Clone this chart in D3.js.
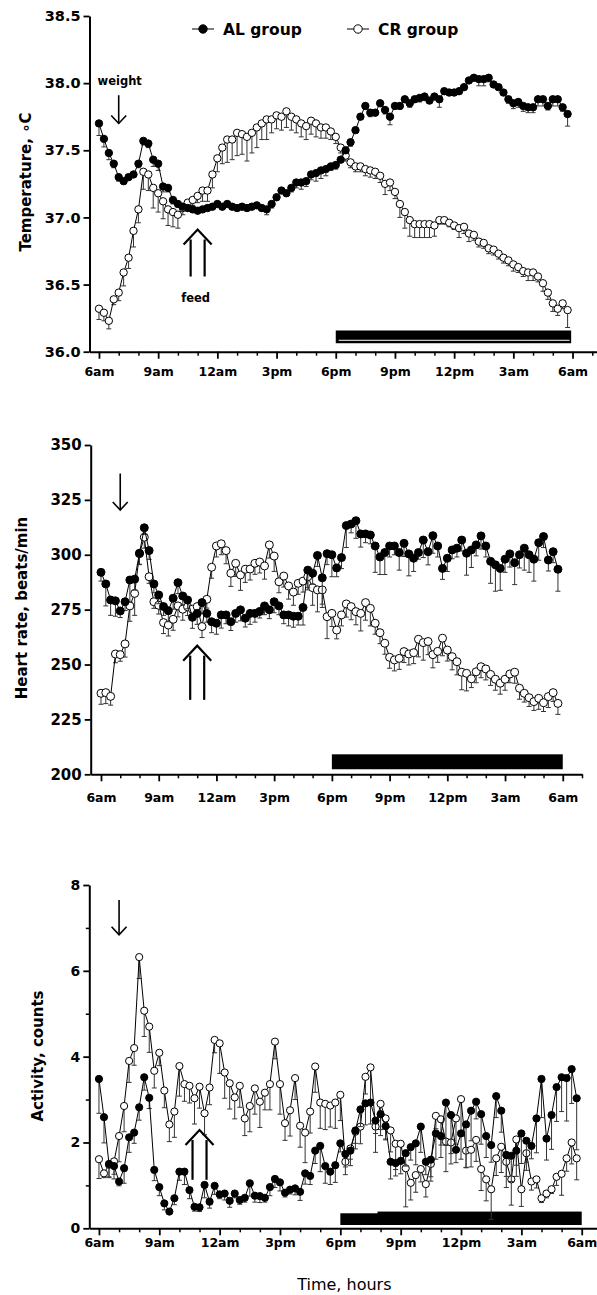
<!DOCTYPE html>
<html>
<head>
<meta charset="utf-8">
<script src="https://cdn.jsdelivr.net/npm/d3@7"></script>
<style>
  body { margin: 0; background: #fff; }
  svg text { font-family: "DejaVu Sans", Verdana, sans-serif; }
</style>
</head>
<body>
<svg id="chart" width="597" height="1295"></svg>
<script>
// x categories: one sample every 15 min, starting 6am
const times = d3.range(96).map(i => i * 0.25);
const majorHours = [0, 3, 6, 9, 12, 15, 18, 21, 24];
const timeLabels = ["6am", "9am", "12am", "3pm", "6pm", "9pm", "12pm", "3am", "6am"];

const tempTicks = [36.0, 36.5, 37.0, 37.5, 38.0, 38.5];
const tempTickLabels = ["36.0", "36.5", "37.0", "37.5", "38.0", "38.5"];
const hrTicks = [200, 225, 250, 275, 300, 325, 350];
const actTicks = [0, 2, 4, 6, 8];
const actMinorTicks = [1, 3, 5, 7];

const tempAL = [
  37.70, 37.585, 37.48, 37.40, 37.30, 37.27, 37.30, 37.32, 37.40, 37.57,
  37.55, 37.43, 37.40, 37.23, 37.22, 37.13, 37.10, 37.08, 37.07, 37.06,
  37.05, 37.06, 37.07, 37.08, 37.10, 37.08, 37.10, 37.08, 37.07, 37.08,
  37.07, 37.08, 37.09, 37.07, 37.06, 37.10, 37.15, 37.20, 37.18, 37.22,
  37.26, 37.26, 37.27, 37.32, 37.33, 37.35, 37.36, 37.38, 37.39, 37.43,
  37.50, 37.56, 37.65, 37.75, 37.83, 37.78, 37.78, 37.85, 37.80, 37.75,
  37.83, 37.83, 37.88, 37.85, 37.88, 37.89, 37.90, 37.87, 37.90, 37.88,
  37.94, 37.93, 37.93, 37.94, 37.97, 38.02, 38.04, 38.03, 38.03, 38.04,
  37.99, 37.97, 37.93, 37.88, 37.85, 37.86, 37.83, 37.82, 37.82, 37.88,
  37.88, 37.83, 37.88, 37.88, 37.82, 37.77
];
const tempALErr = [
  0.09, 0.06, 0.05, 0.03, 0.03, 0.02, 0.02, 0.02, 0.03, 0.03,
  0.03, 0.05, 0.05, 0.04, 0.03, 0.03, 0.02, 0.02, 0.02, 0.02,
  0.02, 0.02, 0.02, 0.02, 0.02, 0.02, 0.02, 0.02, 0.02, 0.02,
  0.02, 0.02, 0.02, 0.02, 0.04, 0.03, 0.02, 0.02, 0.02, 0.03,
  0.04, 0.05, 0.04, 0.04, 0.06, 0.06, 0.05, 0.03, 0.03, 0.02,
  0.02, 0.03, 0.02, 0.02, 0.02, 0.03, 0.02, 0.02, 0.03, 0.06,
  0.02, 0.02, 0.02, 0.03, 0.02, 0.03, 0.03, 0.02, 0.02, 0.06,
  0.02, 0.02, 0.02, 0.02, 0.02, 0.02, 0.02, 0.05, 0.05, 0.03,
  0.02, 0.02, 0.02, 0.03, 0.04, 0.04, 0.04, 0.04, 0.04, 0.05,
  0.05, 0.03, 0.05, 0.05, 0.03, 0.09
];
const tempCR = [
  36.32, 36.29, 36.23, 36.39, 36.44, 36.59, 36.70, 36.90, 37.06, 37.34,
  37.32, 37.22, 37.18, 37.12, 37.06, 37.04, 37.02, 37.07, 37.11, 37.13,
  37.16, 37.20, 37.20, 37.32, 37.44, 37.52, 37.58, 37.58, 37.63, 37.62,
  37.60, 37.63, 37.67, 37.70, 37.73, 37.73, 37.76, 37.75, 37.79, 37.75,
  37.73, 37.70, 37.68, 37.72, 37.70, 37.67, 37.67, 37.64, 37.60, 37.52,
  37.46, 37.41, 37.38, 37.38, 37.36, 37.35, 37.34, 37.31, 37.25, 37.26,
  37.19, 37.10, 37.04, 36.98, 36.95, 36.95, 36.95, 36.95, 36.94, 36.98,
  36.98, 36.96, 36.94, 36.92, 36.93, 36.88, 36.87, 36.82, 36.81, 36.77,
  36.76, 36.73, 36.70, 36.68, 36.65, 36.63, 36.60, 36.59, 36.59, 36.56,
  36.51, 36.44, 36.36, 36.32, 36.36, 36.31
];
const tempCRErr = [
  0.08, 0.06, 0.06, 0.04, 0.06, 0.10, 0.08, 0.12, 0.10, 0.13,
  0.12, 0.15, 0.14, 0.13, 0.12, 0.11, 0.10, 0.05, 0.04, 0.04,
  0.05, 0.08, 0.08, 0.10, 0.10, 0.12, 0.17, 0.15, 0.17, 0.15,
  0.18, 0.15, 0.15, 0.12, 0.15, 0.10, 0.10, 0.10, 0.12, 0.10,
  0.10, 0.10, 0.10, 0.10, 0.10, 0.08, 0.08, 0.06, 0.05, 0.04,
  0.04, 0.04, 0.04, 0.04, 0.05, 0.05, 0.05, 0.05, 0.08, 0.06,
  0.05, 0.10, 0.12, 0.12, 0.10, 0.10, 0.10, 0.10, 0.08, 0.03,
  0.03, 0.03, 0.03, 0.07, 0.05, 0.06, 0.04, 0.04, 0.04, 0.04,
  0.04, 0.04, 0.04, 0.04, 0.05, 0.04, 0.04, 0.06, 0.06, 0.04,
  0.06, 0.05, 0.06, 0.05, 0.04, 0.13
];

const hrAL = [
  292.0, 286.7, 279.4, 279.0, 274.4, 278.6, 288.5, 288.9, 300.7, 312.3,
  301.9, 286.7, 281.7, 276.4, 274.5, 280.2, 287.3, 281.2, 279.4, 271.5,
  273.3, 278.2, 273.3, 269.5, 268.8, 272.6, 272.6, 269.5, 273.3, 274.9,
  271.1, 273.3, 273.3, 274.2, 276.7, 274.9, 278.6, 276.7, 272.6, 272.6,
  272.0, 272.0, 276.0, 293.0, 291.6, 299.7, 289.5, 300.5, 300.0, 294.0,
  298.7, 313.3, 314.0, 315.5, 309.5, 309.5, 309.0, 304.0, 299.0, 301.0,
  304.0, 304.0, 301.0, 305.2, 300.4, 298.4, 301.0, 306.7, 301.4, 308.7,
  304.0, 293.8, 298.4, 302.2, 303.0, 306.7, 300.7, 302.2, 304.5, 308.6,
  304.0, 297.0, 295.4, 293.8, 298.0, 300.4, 296.4, 300.0, 303.0, 300.0,
  298.0, 305.5, 308.3, 297.6, 301.4, 293.4
];
const hrALErr = [
  4, 10, 7, 7, 3, 4, 10, 5, 5, 3,
  4, 4, 4, 4, 5, 5, 5, 4, 4, 5,
  5, 5, 4, 5, 5, 6, 4, 4, 4, 5,
  4, 5, 4, 3, 4, 4, 5, 4, 4, 5,
  5, 4, 8, 8, 5, 5, 12, 5, 10, 4,
  5, 10, 4, 8, 6, 4, 4, 12, 8, 10,
  5, 4, 8, 6, 10, 6, 3, 8, 6, 8,
  5, 5, 6, 4, 4, 5, 10, 8, 5, 6,
  5, 10, 12, 10, 6, 6, 10, 6, 10, 8,
  10, 8, 5, 5, 5, 10
];
const hrCR = [
  236.9, 237.2, 235.5, 254.8, 254.5, 259.4, 276.7, 282.4, 300.5, 308.0,
  290.0, 278.6, 277.0, 269.1, 268.0, 270.6, 276.7, 275.2, 276.3, 275.2,
  276.4, 267.3, 279.7, 294.3, 304.0, 305.0, 301.9, 291.6, 296.1, 290.8,
  293.4, 293.5, 296.1, 296.7, 294.9, 304.5, 299.4, 287.7, 290.3, 285.8,
  283.0, 287.0, 288.0, 290.0, 285.0, 284.0, 284.0, 271.8, 273.3, 265.7,
  272.6, 277.6, 276.4, 274.1, 273.3, 278.2, 275.6, 268.8, 264.5, 259.7,
  253.3, 252.1, 252.8, 255.9, 254.8, 255.4, 261.5, 260.0, 260.5, 254.5,
  256.0, 262.0, 256.6, 253.6, 251.3, 246.5, 246.0, 243.5, 246.7, 249.0,
  248.0, 245.5, 243.3, 241.5, 243.3, 245.7, 246.5, 239.2, 236.9, 234.9,
  233.1, 234.6, 232.6, 235.4, 237.2, 232.3
];
const hrCRErr = [
  5, 5, 4, 4, 3, 6, 7, 10, 5, 5,
  3, 3, 4, 5, 5, 5, 5, 5, 4, 4,
  4, 5, 4, 5, 5, 5, 6, 6, 6, 7,
  6, 5, 5, 5, 6, 6, 7, 5, 5, 6,
  6, 5, 5, 6, 8, 10, 8, 10, 6, 4,
  5, 6, 6, 6, 8, 8, 8, 5, 5, 5,
  5, 5, 5, 5, 5, 5, 8, 8, 6, 6,
  5, 8, 5, 6, 6, 8, 8, 4, 5, 5,
  5, 5, 5, 5, 5, 4, 5, 5, 4, 4,
  4, 5, 4, 5, 4, 5
];

const actAL = [
  3.48, 2.59, 1.50, 1.45, 1.09, 1.40, 2.12, 2.23, 2.82, 3.52,
  3.04, 1.36, 0.96, 0.58, 0.39, 0.70, 1.32, 1.32, 0.89, 0.50,
  0.49, 1.01, 0.62, 0.99, 0.79, 0.81, 0.64, 0.81, 0.66, 0.71,
  1.05, 0.76, 0.75, 0.71, 0.96, 1.15, 1.07, 0.83, 0.90, 0.93,
  0.85, 1.28, 1.22, 1.81, 1.92, 1.45, 1.32, 1.47, 1.98, 1.73,
  1.81, 2.28, 2.77, 2.91, 2.93, 2.51, 2.66, 2.38, 1.55, 1.52,
  1.57, 1.75, 1.89, 1.98, 2.37, 1.55, 1.60, 2.21, 2.15, 2.93,
  2.64, 1.83, 2.21, 2.42, 2.74, 2.95, 2.66, 2.15, 1.94, 3.08,
  2.74, 1.71, 1.69, 1.81, 2.21, 2.04, 1.92, 2.56, 3.48, 2.09,
  2.64, 3.29, 3.52, 3.50, 3.71, 3.03
];
const actALErr = [
  0.8, 0.6, 0.3, 0.3, 0.1, 0.35, 0.35, 0.25, 0.3, 0.3,
  0.25, 0.25, 0.2, 0.15, 0.05, 0.15, 0.2, 0.3, 0.2, 0.1,
  0.1, 0.3, 0.15, 0.2, 0.1, 0.15, 0.15, 0.1, 0.1, 0.1,
  0.3, 0.15, 0.15, 0.1, 0.2, 0.2, 0.2, 0.1, 0.1, 0.15,
  0.2, 0.25, 0.2, 0.3, 0.6, 0.4, 0.3, 0.4, 0.2, 0.3,
  0.2, 0.3, 0.4, 0.5, 0.5, 0.3, 0.5, 0.3, 0.4, 0.3,
  0.3, 0.3, 0.3, 0.5, 0.6, 0.3, 0.4, 0.6, 0.5, 1.0,
  0.9, 0.3, 0.6, 1.0, 0.7, 0.4, 0.7, 0.5, 0.4, 0.5,
  0.5, 0.5, 0.6, 0.6, 0.7, 0.5, 0.3, 0.8, 0.9, 0.5,
  0.8, 0.8, 0.8, 1.0, 0.8, 1.2
];
const actCR = [
  1.61, 1.28, 1.48, 1.56, 2.15, 2.85, 3.90, 4.20, 6.32, 5.07,
  4.70, 3.67, 4.09, 3.21, 2.42, 2.72, 3.78, 3.36, 3.32, 3.03,
  3.30, 2.68, 3.28, 4.39, 4.31, 3.63, 3.38, 3.05, 3.32, 2.56,
  2.85, 3.26, 2.95, 3.16, 3.36, 4.35, 3.36, 2.45, 2.75, 3.50,
  2.39, 2.23, 2.72, 3.77, 2.93, 2.90, 2.86, 2.93, 3.11, 1.55,
  1.86, 2.25, 2.37, 3.53, 3.75, 2.37, 2.90, 2.56, 2.28, 1.97,
  1.97, 1.40, 1.06, 1.24, 1.38, 1.03, 1.50, 2.62, 2.54, 2.02,
  2.00, 2.56, 3.01, 1.81, 1.83, 2.06, 1.38, 1.14, 0.91, 1.63,
  1.90, 1.55, 1.14, 2.07, 0.91, 1.75, 1.09, 1.14, 0.70, 0.81,
  0.91, 1.20, 1.27, 1.63, 2.00, 1.63
];
const actCRErr = [
  0.45, 0.1, 0.3, 0.3, 0.6, 0.6, 0.5, 0.4, 0.5, 0.6,
  0.6, 0.4, 0.3, 0.4, 0.4, 0.6, 0.7, 0.4, 0.4, 0.6,
  0.5, 0.5, 0.4, 0.3, 0.7, 0.6, 0.6, 0.5, 0.5, 0.4,
  0.6, 0.6, 0.6, 0.4, 0.6, 0.4, 0.7, 0.4, 0.6, 0.5,
  0.5, 0.7, 0.5, 0.6, 0.6, 0.6, 0.5, 0.6, 0.6, 0.3,
  0.4, 0.4, 0.4, 0.4, 0.8, 0.6, 0.6, 0.5, 0.5, 0.6,
  0.4, 0.9, 0.4, 0.4, 0.3, 0.3, 0.4, 0.3, 0.6, 0.7,
  0.5, 0.6, 0.8, 0.4, 0.4, 0.5, 0.5, 0.5, 0.7, 0.4,
  0.6, 0.6, 0.6, 0.6, 0.4, 0.4, 0.2, 0.2, 0.1, 0.1,
  0.1, 0.2, 0.5, 0.3, 0.5, 0.5
];

const svg = d3.select("#chart");
svg.append("rect").attr("width", 597).attr("height", 1295).attr("fill", "#fff");

function drawSeries(g, x, y, vals, errs, filled, r) {
  const pts = vals.map((v, i) => ({ t: times[i], v, lo: v - errs[i] }));
  const eb = g.append("g").attr("stroke", "#333").attr("stroke-width", 1);
  eb.selectAll("line.bar").data(pts).join("line").attr("class", "bar")
    .attr("x1", d => x(d.t)).attr("x2", d => x(d.t))
    .attr("y1", d => y(d.v)).attr("y2", d => y(d.lo));
  eb.selectAll("line.cap").data(pts).join("line").attr("class", "cap")
    .attr("x1", d => x(d.t) - 2.5).attr("x2", d => x(d.t) + 2.5)
    .attr("y1", d => y(d.lo)).attr("y2", d => y(d.lo));
  g.append("path").datum(pts)
    .attr("d", d3.line().x(d => x(d.t)).y(d => y(d.v)))
    .attr("fill", "none").attr("stroke", "#000").attr("stroke-width", 1);
  g.append("g").selectAll("circle").data(pts).join("circle")
    .attr("cx", d => x(d.t)).attr("cy", d => y(d.v)).attr("r", r)
    .attr("fill", filled ? "#000" : "#fff")
    .attr("stroke", "#000").attr("stroke-width", 1);
}

function drawArrowDown(g, x, y, h, v0, v1) {
  const a = g.append("g").attr("stroke", "#000").attr("stroke-width", 1.6).attr("fill", "none");
  a.append("line").attr("x1", x(h)).attr("x2", x(h)).attr("y1", y(v0)).attr("y2", y(v1));
  a.append("path").attr("d", `M${x(h) - 7.5},${y(v1) - 8}L${x(h)},${y(v1)}L${x(h) + 7.5},${y(v1) - 8}`);
}

function drawFeedArrow(g, x, y, h, vTop, vBottom) {
  const a = g.append("g").attr("stroke", "#000").attr("stroke-width", 2.2).attr("fill", "none");
  const cx = x(h), top = y(vTop), bot = y(vBottom);
  a.append("line").attr("x1", cx - 7).attr("x2", cx - 7).attr("y1", top + 10).attr("y2", bot);
  a.append("line").attr("x1", cx + 7).attr("x2", cx + 7).attr("y1", top + 10).attr("y2", bot);
  a.append("path").attr("d", `M${cx - 14},${top + 15}L${cx},${top}L${cx + 14},${top + 15}`);
}

function drawPanel(cfg) {
  const x = d3.scaleLinear().domain(cfg.xDomain).range(cfg.xRange);
  const y = d3.scaleLinear().domain(cfg.yDomain).range(cfg.yRange);
  const g = svg.append("g");

  // dark-phase bars
  cfg.night.forEach(n => {
    g.append("rect").attr("x", x(n.from)).attr("y", y(n.top))
      .attr("width", x(n.to) - x(n.from)).attr("height", y(cfg.nightBottom) - y(n.top))
      .attr("fill", "#000");
  });
  if (cfg.nightStripe) {
    g.append("line").attr("x1", x(12.15)).attr("x2", x(23.85))
      .attr("y1", y(cfg.nightStripe)).attr("y2", y(cfg.nightStripe))
      .attr("stroke", "#fff").attr("stroke-width", 1);
  }

  drawSeries(g, x, y, cfg.cr, cfg.crErr, false, cfg.r);
  drawSeries(g, x, y, cfg.al, cfg.alErr, true, cfg.r);

  // y axis
  const ya = g.append("g").attr("transform", `translate(${cfg.xRange[0]},0)`)
    .call(d3.axisLeft(y).tickValues(cfg.yTicks).tickFormat((d, i) => cfg.yLabels[i])
      .tickSize(6).tickPadding(3).tickSizeOuter(0));
  if (cfg.yMinor) {
    g.append("g").attr("transform", `translate(${cfg.xRange[0]},0)`)
      .call(d3.axisLeft(y).tickValues(cfg.yMinor).tickFormat("").tickSize(3.5))
      .call(s => s.select(".domain").remove())
      .selectAll("line").attr("stroke-width", 1.5);
  }
  ya.select(".domain").attr("stroke-width", 2);
  ya.selectAll(".tick line").attr("stroke-width", 1.8);
  ya.selectAll("text").attr("font-size", cfg.yFont).attr("font-weight", "bold").attr("fill", "#000");

  // x axis
  const base = cfg.yRange[0];
  const xa = g.append("g").attr("transform", `translate(0,${base})`)
    .call(d3.axisBottom(x).tickValues(majorHours).tickFormat((d, i) => timeLabels[i])
      .tickSize(7).tickPadding(cfg.xPad).tickSizeOuter(0));
  xa.select(".domain").attr("stroke-width", 2);
  xa.selectAll(".tick line").attr("stroke-width", 1.8);
  xa.selectAll("text").attr("font-size", 12.5).attr("font-weight", "bold").attr("fill", "#000");
  const minorHours = d3.range(1, Math.floor(cfg.xDomain[1]) + 1).filter(h => h % 3 !== 0);
  g.append("g").attr("transform", `translate(0,${base})`)
    .call(d3.axisBottom(x).tickValues(minorHours).tickFormat("").tickSize(4))
    .call(s => s.select(".domain").remove())
    .selectAll("line").attr("stroke-width", 1.5);

  // y title
  g.append("text")
    .attr("transform", `translate(${cfg.titleX},${cfg.titleY}) rotate(-90)`)
    .attr("text-anchor", "middle").attr("font-size", 15).attr("font-weight", "bold")
    .text(cfg.title);

  drawArrowDown(g, x, y, 1, cfg.weightArrow[0], cfg.weightArrow[1]);
  drawFeedArrow(g, x, y, 5, cfg.feedArrow[0], cfg.feedArrow[1]);
  return { g, x, y };
}

// Panel 1: temperature
const p1 = drawPanel({
  xDomain: [-0.48, 25.24], xRange: [89.5, 597],
  yDomain: [36, 38.5], yRange: [351.7, 16],
  yTicks: tempTicks, yLabels: tempTickLabels, yFont: 14.5, xPad: 8,
  al: tempAL, alErr: tempALErr, cr: tempCR, crErr: tempCRErr, r: 3.7,
  night: [{ from: 12, to: 23.93, top: 36.158 }], nightBottom: 36.063, nightStripe: 36.085,
  title: "Temperature,  \u2218C", titleX: 31, titleY: 182,
  weightArrow: [37.91, 37.70], feedArrow: [36.91, 36.56]
});
p1.g.append("text").attr("x", p1.x(1.05)).attr("y", p1.y(37.985))
  .attr("text-anchor", "middle").attr("font-size", 11.5).attr("font-weight", "bold").text("weight");
p1.g.append("text").attr("x", p1.x(4.9)).attr("y", p1.y(36.37))
  .attr("text-anchor", "middle").attr("font-size", 11.5).attr("font-weight", "bold").text("feed");

// legend
const legend = svg.append("g").attr("font-size", 15.5).attr("font-weight", "bold");
[{ label: "AL group", cx: 203, filled: true }, { label: "CR group", cx: 358, filled: false }].forEach(l => {
  legend.append("line").attr("x1", l.cx - 11).attr("x2", l.cx + 11).attr("y1", 29).attr("y2", 29)
    .attr("stroke", "#000").attr("stroke-width", 1);
  legend.append("circle").attr("cx", l.cx).attr("cy", 29).attr("r", 4.2)
    .attr("fill", l.filled ? "#000" : "#fff").attr("stroke", "#000");
  legend.append("text").attr("x", l.cx + 20).attr("y", 35).text(l.label);
});

// Panel 2: heart rate
drawPanel({
  xDomain: [-0.535, 25], xRange: [90.7, 582],
  yDomain: [200, 350], yRange: [774.3, 445],
  yTicks: hrTicks, yLabels: hrTicks.map(String), yFont: 15, xPad: 12,
  al: hrAL, alErr: hrALErr, cr: hrCR, crErr: hrCRErr, r: 4,
  night: [{ from: 12, to: 24, top: 209.1 }], nightBottom: 202.3,
  title: "Heart rate, beats/min", titleX: 27, titleY: 608,
  weightArrow: [337, 320.4], feedArrow: [258.6, 233.9]
});

// Panel 3: activity
const p3 = drawPanel({
  xDomain: [-0.48, 24.76], xRange: [89.3, 597],
  yDomain: [0, 8], yRange: [1228.3, 885],
  yTicks: actTicks, yLabels: actTicks.map(String), yMinor: actMinorTicks, yFont: 14, xPad: 3,
  al: actAL, alErr: actALErr, cr: actCR, crErr: actCRErr, r: 3.6,
  night: [{ from: 12, to: 13.9, top: 0.35 }, { from: 13.85, to: 24, top: 0.39 }], nightBottom: 0.077,
  title: "Activity, counts", titleX: 43, titleY: 1056,
  weightArrow: [7.65, 6.84], feedArrow: [2.29, 1.13]
});
svg.append("text").attr("x", p3.x(12.2)).attr("y", 1290)
  .attr("text-anchor", "middle").attr("font-size", 16).text("Time, hours");
</script>
</body>
</html>
